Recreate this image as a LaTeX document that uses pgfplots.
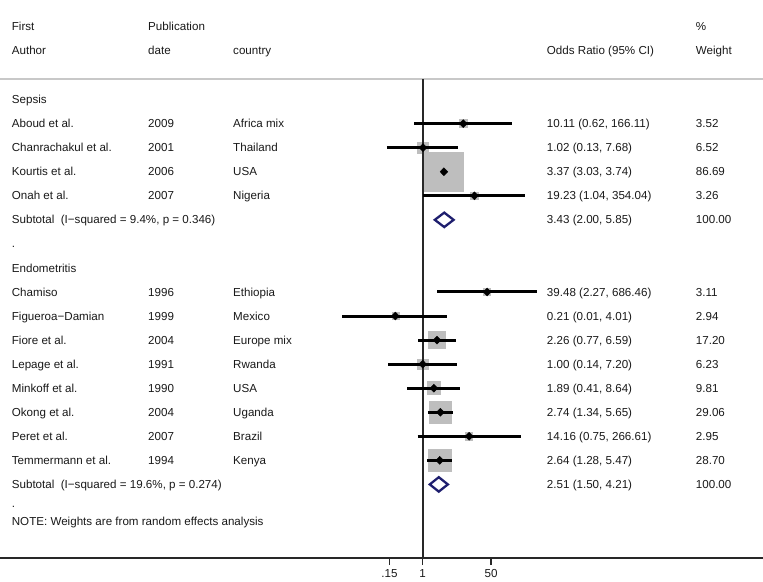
\documentclass[border=0pt]{standalone}
\usepackage{pgfplots}
\pgfplotsset{compat=1.18}
\usepackage{pgfplotstable}
\usepackage{fontspec}
\setmainfont{Liberation Sans}
\definecolor{txt}{RGB}{25,25,25}
\definecolor{boxgray}{RGB}{190,190,190}
\definecolor{navy}{RGB}{30,30,110}
\definecolor{sepgray}{RGB}{200,200,200}
\definecolor{axisdark}{RGB}{40,40,40}

% row: layout row; es, lci, uci: odds ratio and 95% CI; w: % weight
\pgfplotstableread{
row es lci uci w
3 10.11 0.62 166.11 3.52
4 1.02 0.13 7.68 6.52
5 3.37 3.03 3.74 86.69
6 19.23 1.04 354.04 3.26
10 39.48 2.27 686.46 3.11
11 0.21 0.01 4.01 2.94
12 2.26 0.77 6.59 17.20
13 1.00 0.14 7.20 6.23
14 1.89 0.41 8.64 9.81
15 2.74 1.34 5.65 29.06
16 14.16 0.75 266.61 2.95
17 2.64 1.28 5.47 28.70
}\studies

\newcommand{\rt}[3]{\node[anchor=base west, inner sep=0pt, text=txt, font=\fontsize{11.6}{14}\selectfont] at ({rel axis cs:#1,0}|-{axis cs:1,{-1*(#2)-0.17}}) {#3};}
\newcommand{\ci}[3]{\addplot[black, line width=3pt] coordinates {(#2,-#1) (#3,-#1)};}
\newcommand{\cA}{0.0153}
\newcommand{\cB}{0.1940}
\newcommand{\cC}{0.3054}
\newcommand{\cD}{0.7166}
\newcommand{\cE}{0.9118}

\begin{document}
\begin{tikzpicture}
\begin{axis}[
  at={(0,0)}, anchor=south west,
  width=763pt, height=558pt, scale only axis,
  xmode=log, xmin=3.3e-11, xmax=2.75e8,
  ymin=-21.06, ymax=2.141,
  axis y line=none, axis x line*=bottom,
  axis line style={line width=2.2pt, draw=axisdark},
  xtick={0.15,1,50}, xticklabels={.15,1,50},
  minor xtick={}, xminorticks=false,
  tick align=outside, major tick length=7pt,
  xtick style={line width=1.6pt, draw=axisdark},
  xticklabel style={font=\fontsize{11.6}{14}\selectfont, text=txt, inner sep=0pt, yshift=-4pt},
  clip=false, clip marker paths=true,
]
% separator line
\draw[sepgray, line width=2pt] ({rel axis cs:0,0}|-{axis cs:1,-1.164}) -- ({rel axis cs:1,0}|-{axis cs:1,-1.164});

% weight boxes
\addplot[scatter, only marks, mark=square*,
  scatter/use mapped color={draw=boxgray, fill=boxgray},
  visualization depends on={2.075*sqrt(\thisrow{w}) \as \msz},
  scatter/@pre marker code/.append style={/tikz/mark size=\msz},
  mark options={line width=0.5pt, rounded corners=1pt}]
  table[x=es, y expr=-\thisrow{row}] {\studies};

% null line
\addplot[axisdark, line width=2.2pt] coordinates {(1,-1.164) (1,-21.06)};

% confidence intervals: row, lower, upper
\ci{3}{0.62}{166.11}
\ci{4}{0.13}{7.68}
\ci{5}{3.03}{3.74}
\ci{6}{1.04}{354.04}
\ci{10}{2.27}{686.46}
\ci{11}{0.01}{4.01}
\ci{12}{0.77}{6.59}
\ci{13}{0.14}{7.20}
\ci{14}{0.41}{8.64}
\ci{15}{1.34}{5.65}
\ci{16}{0.75}{266.61}
\ci{17}{1.28}{5.47}

% point estimates
\addplot[only marks, mark=diamond*, mark size=4pt, black, mark options={xscale=1.3}]
  table[x=es, y expr=-\thisrow{row}] {\studies};

% subtotal diamonds
\addplot[navy, line width=2.3pt, line join=miter] coordinates {(2.00,-7) (3.43,-6.7) (5.85,-7) (3.43,-7.3)} -- cycle;
\addplot[navy, line width=2.3pt, line join=miter] coordinates {(1.50,-18) (2.51,-17.7) (4.21,-18) (2.51,-18.3)} -- cycle;

% header
\rt{\cA}{-1.05}{First}
\rt{\cB}{-1.05}{Publication}
\rt{\cE}{-1.05}{\%}
\rt{\cA}{-0.05}{Author}
\rt{\cB}{-0.05}{date}
\rt{\cC}{-0.05}{country}
\rt{\cD}{-0.05}{Odds Ratio (95\% CI)}
\rt{\cE}{-0.05}{Weight}

\rt{\cA}{2}{Sepsis}
\rt{\cA}{3}{Aboud et al.}\rt{\cB}{3}{2009}\rt{\cC}{3}{Africa mix}\rt{\cD}{3}{10.11 (0.62, 166.11)}\rt{\cE}{3}{3.52}
\rt{\cA}{4}{Chanrachakul et al.}\rt{\cB}{4}{2001}\rt{\cC}{4}{Thailand}\rt{\cD}{4}{1.02 (0.13, 7.68)}\rt{\cE}{4}{6.52}
\rt{\cA}{5}{Kourtis et al.}\rt{\cB}{5}{2006}\rt{\cC}{5}{USA}\rt{\cD}{5}{3.37 (3.03, 3.74)}\rt{\cE}{5}{86.69}
\rt{\cA}{6}{Onah et al.}\rt{\cB}{6}{2007}\rt{\cC}{6}{Nigeria}\rt{\cD}{6}{19.23 (1.04, 354.04)}\rt{\cE}{6}{3.26}
\rt{\cA}{7}{Subtotal\ \ (I−squared = 9.4\%, p = 0.346)}\rt{\cD}{7}{3.43 (2.00, 5.85)}\rt{\cE}{7}{100.00}
\rt{\cA}{8}{.}
\rt{\cA}{9}{Endometritis}
\rt{\cA}{10}{Chamiso}\rt{\cB}{10}{1996}\rt{\cC}{10}{Ethiopia}\rt{\cD}{10}{39.48 (2.27, 686.46)}\rt{\cE}{10}{3.11}
\rt{\cA}{11}{Figueroa−Damian}\rt{\cB}{11}{1999}\rt{\cC}{11}{Mexico}\rt{\cD}{11}{0.21 (0.01, 4.01)}\rt{\cE}{11}{2.94}
\rt{\cA}{12}{Fiore et al.}\rt{\cB}{12}{2004}\rt{\cC}{12}{Europe mix}\rt{\cD}{12}{2.26 (0.77, 6.59)}\rt{\cE}{12}{17.20}
\rt{\cA}{13}{Lepage et al.}\rt{\cB}{13}{1991}\rt{\cC}{13}{Rwanda}\rt{\cD}{13}{1.00 (0.14, 7.20)}\rt{\cE}{13}{6.23}
\rt{\cA}{14}{Minkoff et al.}\rt{\cB}{14}{1990}\rt{\cC}{14}{USA}\rt{\cD}{14}{1.89 (0.41, 8.64)}\rt{\cE}{14}{9.81}
\rt{\cA}{15}{Okong et al.}\rt{\cB}{15}{2004}\rt{\cC}{15}{Uganda}\rt{\cD}{15}{2.74 (1.34, 5.65)}\rt{\cE}{15}{29.06}
\rt{\cA}{16}{Peret et al.}\rt{\cB}{16}{2007}\rt{\cC}{16}{Brazil}\rt{\cD}{16}{14.16 (0.75, 266.61)}\rt{\cE}{16}{2.95}
\rt{\cA}{17}{Temmermann et al.}\rt{\cB}{17}{1994}\rt{\cC}{17}{Kenya}\rt{\cD}{17}{2.64 (1.28, 5.47)}\rt{\cE}{17}{28.70}
\rt{\cA}{18}{Subtotal\ \ (I−squared = 19.6\%, p = 0.274)}\rt{\cD}{18}{2.51 (1.50, 4.21)}\rt{\cE}{18}{100.00}
\rt{\cA}{18.8}{.}
\rt{\cA}{19.53}{NOTE: Weights are from random effects analysis}
\end{axis}
\pgfresetboundingbox
\useasboundingbox (0,-23pt) rectangle (763pt,558pt);
\end{tikzpicture}
\end{document}
